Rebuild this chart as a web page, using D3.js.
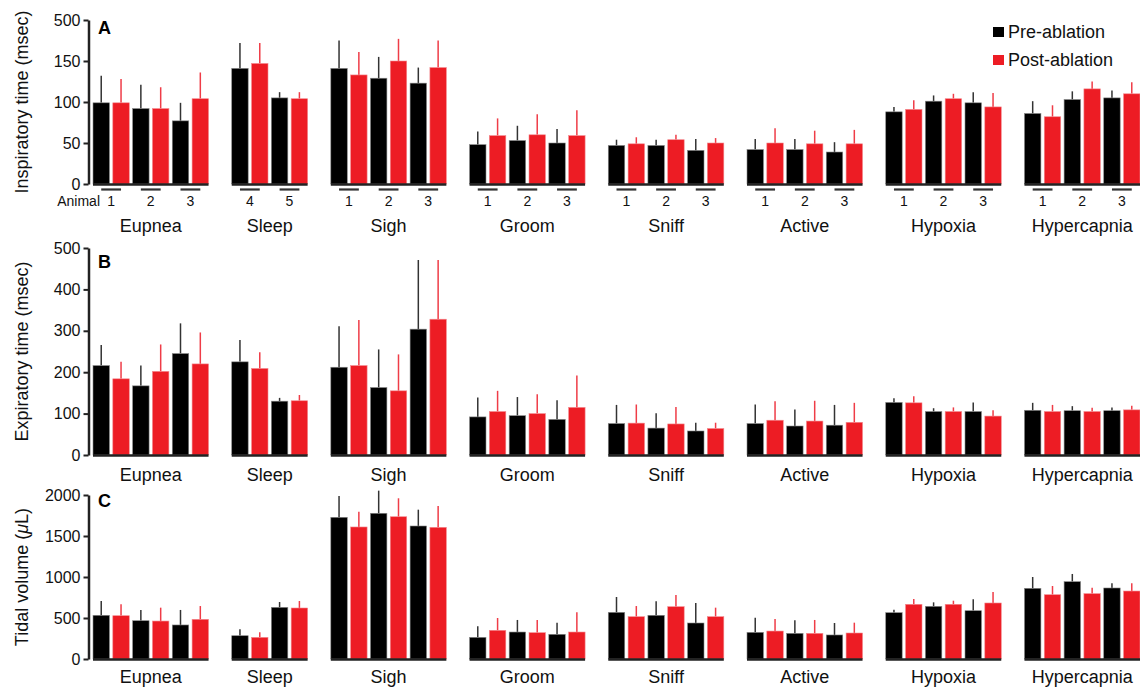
<!DOCTYPE html>
<html>
<head>
<meta charset="utf-8">
<script src="https://cdn.jsdelivr.net/npm/d3@7/dist/d3.min.js"></script>
<style>
html,body{margin:0;padding:0;background:#fff;}
svg{display:block;font-family:"Liberation Sans",Arial,Helvetica,sans-serif;}
</style>
</head>
<body>
<svg id="chart" width="1140" height="687"></svg>
<script>
// ---- Data ----
const groups = ["Eupnea","Sleep","Sigh","Groom","Sniff","Active","Hypoxia","Hypercapnia"];
const animals = [[1,2,3],[4,5],[1,2,3],[1,2,3],[1,2,3],[1,2,3],[1,2,3],[1,2,3]];
const conditions = ["Pre-ablation","Post-ablation"];

// Panel A: inspiratory time (msec), mean and SD, order follows groups x animals
const inspPre    = [99,92,77, 141,105, 141,129,123, 48,53,50, 47,47,41, 42,42,39, 88,101,99, 86,103,105];
const inspPreSD  = [33,29,22, 31,7,    34,26,19,    16,18,17, 7,7,14,   13,13,12, 6,7,13,    15,10,9];
const inspPost   = [99,92,104, 147,104, 133,150,142, 59,60,59, 49,54,50, 50,49,49, 91,104,94, 82,116,110];
const inspPostSD = [29,26,32,  25,8,    28,27,33,    21,25,31, 8,6,6,    18,16,17, 11,6,17,   14,9,14];
const inspTicks      = [0,50,100,150,200];
const inspTickLabels = ["0","50","100","150","500"];

// Panel B: expiratory time (msec)
const expPre    = [216,167,245, 225,130, 212,163,304, 92,95,86, 76,65,58, 76,70,72, 127,105,105, 108,107,107];
const expPreSD  = [50,49,73,    53,8,    99,92,167,   47,45,46, 45,36,20, 46,40,49, 10,8,22,     18,11,8];
const expPost   = [184,202,220, 209,131, 216,155,328, 105,100,115, 77,75,64, 84,82,79, 126,105,94, 105,105,109];
const expPostSD = [41,65,76,    39,14,   110,88,143,  50,47,77,    45,41,14, 46,49,47, 16,10,14,   16,9,10];
const expTicks      = [0,100,200,300,400,500];
const expTickLabels = ["0","100","200","300","400","500"];

// Panel C: tidal volume (µL)
const tvPre    = [533,467,415, 284,630, 1728,1777,1622, 264,329,301, 569,533,439, 325,313,293, 565,642,589, 862,943,866];
const tvPreSD  = [174,131,183, 78,65,   260,276,199,    134,147,142, 187,170,244, 179,159,146, 37,49,139,  138,94,57];
const tvPost   = [528,463,484, 264,622, 1610,1735,1606, 350,321,329, 516,638,516, 341,313,317, 667,667,683, 784,797,829];
const tvPostSD = [139,163,162, 61,85,   187,225,260,    150,155,240, 130,142,110, 147,163,126, 65,44,134,  106,73,94];
const tvTicks      = [0,500,1000,1500,2000];
const tvTickLabels = ["0","500","1000","1500","2000"];

// ---- Layout ----
const svg = d3.select("#chart");
const RED = "#ed1c24", BLACK = "#000000";
const FONT = '"Liberation Sans",Arial,Helvetica,sans-serif';

// flat list of entries (group, animal) with index
const entries = [];
groups.forEach((g, gi) => animals[gi].forEach(a => entries.push({g, gi, a})));
entries.forEach((e, i) => e.i = i);

// x band domain: bars plus one spacer between groups
const xKeys = [];
groups.forEach((g, gi) => {
  if (gi > 0) xKeys.push("gap" + gi);
  animals[gi].forEach(a => conditions.forEach((c, ci) => xKeys.push(gi + "-" + a + "-" + ci)));
});
const x = d3.scaleBand().domain(xKeys).range([93, 1140]).paddingInner(0.17).paddingOuter(0);
const bw = x.bandwidth();
const key = (e, ci) => e.gi + "-" + e.a + "-" + ci;

const panels = [
  {letter:"A", label:"Inspiratory time (msec)", domain:[0,200], range:[184,20], ticks:inspTicks, tickLabels:inspTickLabels,
   pre:inspPre, preSD:inspPreSD, post:inspPost, postSD:inspPostSD, groupLabelY:232, animalsRow:true, letterY:34},
  {letter:"B", label:"Expiratory time (msec)", domain:[0,500], range:[455,248], ticks:expTicks, tickLabels:expTickLabels,
   pre:expPre, preSD:expPreSD, post:expPost, postSD:expPostSD, groupLabelY:481, animalsRow:false, letterY:268},
  {letter:"C", label:"Tidal volume (", domain:[0,2000], range:[659,495], ticks:tvTicks, tickLabels:tvTickLabels,
   pre:tvPre, preSD:tvPreSD, post:tvPost, postSD:tvPostSD, groupLabelY:683, animalsRow:false, letterY:507, micro:true}
];

panels.forEach(p => {
  const y = d3.scaleLinear().domain(p.domain).range(p.range);
  const g = svg.append("g");

  // y axis
  const ax = g.append("g").attr("transform", "translate(88.5,0)")
    .call(d3.axisLeft(y).tickValues(p.ticks).tickFormat((d, i) => p.tickLabels[i]).tickSize(5).tickSizeOuter(0).tickPadding(3));
  ax.select(".domain").attr("stroke", "#222").attr("stroke-width", 2.5);
  ax.selectAll(".tick line").attr("stroke", "#222").attr("stroke-width", 2);
  ax.selectAll(".tick text").attr("font-size", 16).attr("font-family", FONT).attr("fill", "#111");

  // y label
  const yl = g.append("text")
    .attr("transform", `translate(28,${(p.range[0] + p.range[1]) / 2}) rotate(-90)`)
    .attr("text-anchor", "middle").attr("font-size", 18).attr("fill", "#111");
  if (p.micro) {
    yl.append("tspan").text("Tidal volume (");
    yl.append("tspan").attr("font-style", "italic").text("\u03bc");
    yl.append("tspan").text("L)");
  } else {
    yl.text(p.label);
  }

  // panel letter
  g.append("text").attr("x", 98).attr("y", p.letterY).attr("font-size", 18).attr("font-weight", "bold")
    .attr("fill", "#000").text(p.letter);

  // bars
  const bars = [];
  entries.forEach(e => {
    bars.push({e, ci:0, v:p.pre[e.i], sd:p.preSD[e.i]});
    bars.push({e, ci:1, v:p.post[e.i], sd:p.postSD[e.i]});
  });

  // error bars (drawn first, behind bars)
  g.selectAll("line.err").data(bars).join("line")
    .attr("x1", d => x(key(d.e, d.ci)) + bw / 2)
    .attr("x2", d => x(key(d.e, d.ci)) + bw / 2)
    .attr("y1", d => y(d.v))
    .attr("y2", d => y(d.v + d.sd))
    .attr("stroke", d => d.ci === 0 ? "#333" : "#ef3c47")
    .attr("stroke-width", 1.5);

  g.selectAll("rect.bar").data(bars).join("rect")
    .attr("x", d => x(key(d.e, d.ci)))
    .attr("width", bw)
    .attr("y", d => y(d.v))
    .attr("height", d => y(0) - y(d.v))
    .attr("fill", d => d.ci === 0 ? BLACK : RED)
    .attr("stroke", d => d.ci === 0 ? "#888" : "#f38a8f")
    .attr("stroke-width", 0.6);

  // group baselines and labels
  groups.forEach((gn, gi) => {
    const as = animals[gi];
    const x0 = x(gi + "-" + as[0] + "-0");
    const x1 = x(gi + "-" + as[as.length - 1] + "-1") + bw;
    g.append("line").attr("x1", x0).attr("x2", x1).attr("y1", y(0) + 0.5).attr("y2", y(0) + 0.5)
      .attr("stroke", "#222").attr("stroke-width", 2.6);
    g.append("text").attr("x", (x0 + x1) / 2).attr("y", p.groupLabelY).attr("text-anchor", "middle")
      .attr("font-size", 18).attr("fill", "#111").text(gn);
  });

  // animal rows (panel A only)
  if (p.animalsRow) {
    entries.forEach(e => {
      const c0 = x(key(e, 0)) + bw / 2, c1 = x(key(e, 1)) + bw / 2;
      g.append("line").attr("x1", c0).attr("x2", c1).attr("y1", 189.5).attr("y2", 189.5)
        .attr("stroke", "#333").attr("stroke-width", 2.2);
      g.append("text").attr("x", (c0 + c1) / 2).attr("y", 206).attr("text-anchor", "middle")
        .attr("font-size", 14).attr("fill", "#111").text(e.a);
    });
    g.append("text").attr("x", 100).attr("y", 206).attr("text-anchor", "end")
      .attr("font-size", 14).attr("fill", "#111").text("Animal");
  }
});

// legend
const leg = svg.append("g");
conditions.forEach((c, ci) => {
  leg.append("rect").attr("x", 993).attr("y", 27 + ci * 28).attr("width", 11).attr("height", 10)
    .attr("fill", ci === 0 ? BLACK : RED);
  leg.append("text").attr("x", 1008).attr("y", 38 + ci * 28).attr("font-size", 18).attr("fill", "#111").text(c);
});
</script>
</body>
</html>
